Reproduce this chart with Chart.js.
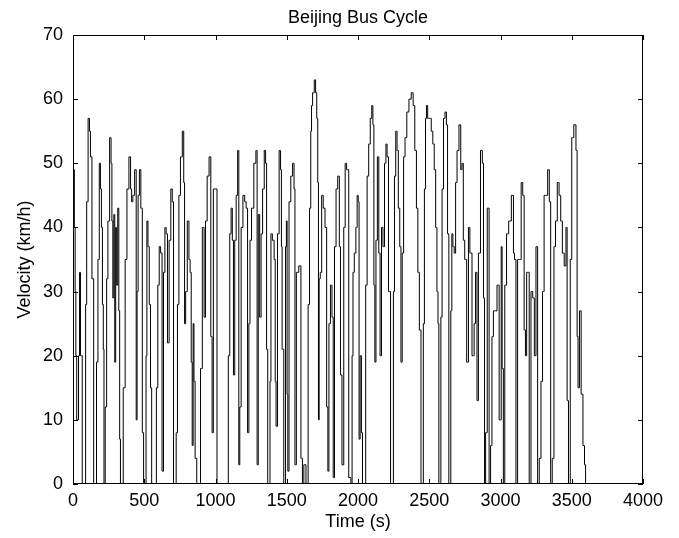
<!DOCTYPE html>
<html>
<head>
<meta charset="utf-8">
<script src="https://cdn.jsdelivr.net/npm/chart.js@4"></script>
<style>
  html, body { margin: 0; padding: 0; background: #fff; }
  #wrap { width: 679px; height: 538px; }
</style>
</head>
<body>
<div id="wrap"><canvas id="cycle" width="679" height="538"></canvas></div>
<script>
// Beijing bus cycle (time in s, speed in km/h)
var timeSec = [
    0, 7, 12, 18, 22, 30, 36, 42, 50, 55, 62, 68,
    85, 92, 100, 112, 119, 126, 140, 150,
    160, 170, 180, 189, 196, 203, 210, 215, 220,
    232, 240, 250, 264, 270, 276, 283, 290, 296, 303, 310, 318, 325, 330, 336,
    345, 360, 372, 385, 400, 408, 415, 425, 440, 447, 452, 462, 470, 482, 491, 500,
    510, 515, 522, 530, 540, 548, 556,
    580, 590, 600, 610, 620, 630, 640, 650, 657, 669, 680, 693, 700, 711,
    720, 728, 738, 748, 760, 774, 780, 786, 795, 809, 818, 826, 833, 840, 846, 852, 862, 875,
    890, 900, 915, 925, 935, 948, 962, 972, 980, 990, 1005, 1016,
    1085, 1095, 1105, 1114, 1122, 1130, 1140, 1150, 1161, 1166, 1175, 1185, 1200, 1210, 1220, 1230,
    1238, 1246, 1260, 1278, 1289, 1295, 1305, 1315, 1325, 1336, 1348, 1355, 1362, 1371,
    1380, 1385, 1393, 1405, 1418, 1420, 1430, 1440, 1453, 1460, 1465, 1470, 1488,
    1495, 1500, 1505, 1510, 1522, 1535, 1547, 1555, 1560, 1575, 1594, 1605, 1615, 1625, 1645,
    1655, 1665, 1672, 1676, 1687, 1699, 1706, 1715, 1720, 1725, 1730, 1740, 1750, 1762, 1775, 1785, 1792,
    1800, 1813, 1822, 1830, 1840, 1852, 1863, 1875, 1880, 1895, 1905, 1915, 1925, 1945,
    1955, 1962, 1968, 1980, 1990, 1998, 2005, 2010, 2020, 2028, 2035, 2050,
    2058, 2070, 2080, 2092, 2101, 2108, 2115, 2122, 2130, 2142, 2150, 2160, 2170, 2180, 2192, 2200, 2208, 2220, 2237,
    2245, 2252, 2260, 2270, 2278, 2288, 2298, 2305, 2315, 2325, 2335, 2350, 2365, 2382, 2392, 2405, 2415, 2425, 2436, 2448,
    2455, 2462, 2470, 2478, 2483, 2495, 2508, 2520, 2530, 2540, 2550, 2558, 2565, 2570,
    2578, 2585, 2595, 2605, 2616, 2625, 2632, 2643,
    2648, 2655, 2662, 2670, 2680, 2690, 2700, 2717, 2725, 2735, 2743, 2755, 2770, 2780, 2790,
    2810, 2820, 2830, 2840, 2850, 2869, 2876, 2885, 2891, 2900, 2914, 2926,
    2935, 2945, 2955, 2965, 2986, 2995, 3002, 3008, 3015, 3025, 3035, 3050, 3065, 3087, 3095, 3102, 3115,
    3125, 3140, 3150, 3162, 3170, 3180, 3187, 3195, 3208, 3220, 3232, 3243, 3255, 3266,
    3278, 3290, 3300, 3312, 3325, 3337, 3348, 3356,
    3370, 3380, 3392, 3405, 3417, 3428, 3440, 3454, 3465, 3470, 3484,
    3495, 3505, 3524, 3535, 3540, 3548, 3560, 3572, 3585, 3594, 3600
];
var speedKmh = [
    56, 49, 40, 30, 20, 10, 10, 20, 33, 20, 20, 0,
    0, 28, 44, 57, 55, 51, 32, 0,
    0, 19, 35, 50, 46, 40, 28, 21, 0,
    12, 32, 41, 54, 50, 41, 29, 42, 19, 40, 31, 43, 27, 7, 0,
    0, 15, 35, 46, 51, 46, 44, 45, 49, 10, 30, 45, 49, 43, 8, 0,
    0, 20, 41, 37, 28, 15, 0,
    0, 15, 31, 37, 36, 2, 33, 40, 39, 22, 38, 46, 44, 0,
    0, 8, 28, 45, 51, 55, 47, 25, 30, 41, 35, 33, 19, 6, 25, 16, 4, 0,
    0, 18, 40, 26, 41, 48, 51, 23, 8, 46, 46, 0,
    0, 20, 39, 43, 38, 17, 38, 45, 52, 3, 12, 40, 45, 44, 43, 8,
    25, 38, 43, 50, 52, 3, 42, 26, 39, 46, 52, 50, 21, 0,
    0, 16, 39, 38, 35, 16, 9, 39, 52, 49, 37, 21, 0,
    37, 41, 14, 2, 44, 48, 50, 46, 3, 33, 34, 4, 0, 3, 0,
    28, 43, 55, 59, 61, 63, 61, 57, 47, 10, 32, 33, 45, 43, 40, 12, 2,
    25, 31, 26, 1, 37, 46, 48, 37, 17, 3, 40, 50, 49, 1,
    0, 20, 33, 36, 40, 45, 44, 7, 20, 8, 0, 0,
    31, 48, 53, 57, 59, 56, 31, 19, 38, 51, 36, 20, 40, 37, 50, 53, 51, 30, 0,
    0, 30, 48, 55, 52, 43, 37, 19, 36, 51, 54, 58, 60, 61, 59, 52, 43, 33, 24, 0,
    0, 25, 46, 57, 59, 57, 57, 55, 53, 49, 40, 30, 25, 0,
    0, 26, 46, 57, 58, 56, 39, 0,
    0, 27, 39, 37, 36, 47, 52, 56, 49, 50, 38, 35, 19, 40, 36,
    20, 25, 33, 13, 36, 52, 50, 29, 0, 8, 43, 0,
    6, 23, 27, 27, 31, 10, 10, 37, 18, 0, 31, 39, 41, 45, 36, 35, 0,
    35, 35, 47, 45, 24, 20, 33, 33, 0, 30, 29, 20, 37, 0,
    4, 16, 30, 45, 45, 49, 44, 0,
    4, 37, 41, 47, 45, 41, 36, 34, 40, 13, 0,
    35, 54, 56, 52, 23, 15, 27, 14, 6, 3, 0
];

var xTicks = [0, 500, 1000, 1500, 2000, 2500, 3000, 3500, 4000];
var yTicks = [0, 10, 20, 30, 40, 50, 60, 70];
var titleText = 'Beijing Bus Cycle';

var FONT = '"Liberation Sans", Arial, Helvetica, sans-serif';
Chart.defaults.font.family = FONT;
Chart.defaults.color = '#000';

if (timeSec.length !== speedKmh.length) console.warn('length mismatch', timeSec.length, speedKmh.length);

var points = timeSec.map(function (t, i) { return { x: t, y: speedKmh[i] }; });

// matlab style box with inward ticks on all four sides, title centred over the axes
var boxTicks = {
    id: 'boxTicks',
    afterDatasetsDraw: function (chart) {
        var ctx = chart.ctx, a = chart.chartArea;
        var sx = chart.scales.x, sy = chart.scales.y;
        var len = 5;
        ctx.save();
        ctx.strokeStyle = '#000';
        ctx.lineWidth = 1;
        ctx.strokeRect(a.left + 0.5, a.top + 0.5, a.right - a.left - 1, a.bottom - a.top - 1);
        ctx.beginPath();
        xTicks.forEach(function (v) {
            var px = Math.round(sx.getPixelForValue(v)) + 0.5;
            ctx.moveTo(px, a.bottom); ctx.lineTo(px, a.bottom - len);
            ctx.moveTo(px, a.top); ctx.lineTo(px, a.top + len);
        });
        yTicks.forEach(function (v) {
            var py = Math.round(sy.getPixelForValue(v)) + 0.5;
            ctx.moveTo(a.left, py); ctx.lineTo(a.left + len, py);
            ctx.moveTo(a.right, py); ctx.lineTo(a.right - len, py);
        });
        ctx.stroke();

        ctx.fillStyle = '#000';
        ctx.font = '18px ' + FONT;
        ctx.textAlign = 'center';
        ctx.textBaseline = 'middle';
        ctx.fillText(titleText, (a.left + a.right) / 2, a.top - 17);
        ctx.restore();
    }
};

var chart = new Chart(document.getElementById('cycle').getContext('2d'), {
    type: 'line',
    data: {
        datasets: [{
            data: points,
            borderColor: '#000',
            borderWidth: 1,
            pointRadius: 0,
            stepped: 'middle',
            fill: false
        }]
    },
    options: {
        responsive: false,
        animation: false,
        devicePixelRatio: 1,
        layout: { padding: { left: 0, right: 36, top: 35, bottom: 0 } },
        plugins: {
            legend: { display: false },
            tooltip: { enabled: false },
            title: { display: false }
        },
        scales: {
            x: {
                type: 'linear',
                min: 0,
                max: 4000,
                afterBuildTicks: function (s) { s.ticks = xTicks.map(function (v) { return { value: v }; }); },
                ticks: {
                    font: { size: 18 }, padding: 6, maxRotation: 0, autoSkip: false,
                    callback: function (v) { return String(v); }
                },
                grid: { display: false, drawTicks: false },
                border: { display: false },
                title: { display: true, text: 'Time (s)', font: { size: 18 }, padding: { top: 0, bottom: 5 } },
                afterFit: function (s) { s.height = 54; }
            },
            y: {
                min: 0,
                max: 70,
                afterBuildTicks: function (s) { s.ticks = yTicks.map(function (v) { return { value: v }; }); },
                ticks: { font: { size: 18 }, padding: 10 },
                grid: { display: false, drawTicks: false },
                border: { display: false },
                title: { display: true, text: 'Velocity (km/h)', font: { size: 18 }, padding: { top: 14, bottom: 0 } },
                afterFit: function (s) { s.width = 73; }
            }
        }
    },
    plugins: [boxTicks]
});
</script>
</body>
</html>
